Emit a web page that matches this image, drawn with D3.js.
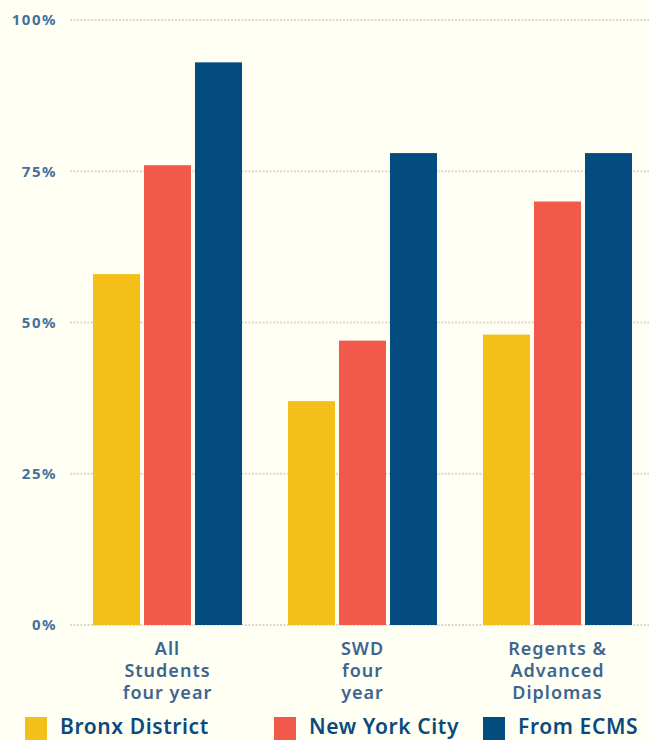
<!DOCTYPE html>
<html>
<head>
<meta charset="utf-8">
<script src="https://cdn.jsdelivr.net/npm/d3@7"></script>
<style>
  html, body { margin: 0; padding: 0; background: #fffff4; }
  svg { display: block; font-family: "Noto Sans", sans-serif; }
</style>
</head>
<body>
<div id="chart"></div>
<script>
const WIDTH = 649;
const HEIGHT = 740;

// data
const categories = ["All Students four year", "SWD four year", "Regents & Advanced Diplomas"];
const categoryLines = [["All", "Students", "four year"], ["SWD", "four", "year"], ["Regents &", "Advanced", "Diplomas"]];
const series = ["Bronx District", "New York City", "From ECMS"];
const bronx = [58, 37, 48];
const nyc = [76, 47, 70];
const ecms = [93, 78, 78];
const yTicks = [0, 25, 50, 75, 100];
const colors = ["#f5bf19", "#f15a4b", "#044b7f"];

const values = [bronx, nyc, ecms];

var svg = d3.select("#chart")
    .append("svg")
    .attr("width", WIDTH)
    .attr("height", HEIGHT);

const x0 = d3.scaleBand()
    .domain(categories)
    .range([93, 632])
    .paddingInner(0.236)
    .paddingOuter(0);

const x1 = d3.scaleBand()
    .domain(series)
    .range([0, x0.bandwidth()])
    .paddingInner(0.078);

const y = d3.scaleLinear()
    .domain([0, 100])
    .range([625, 20]);

const color = d3.scaleOrdinal().domain(series).range(colors);

// gridlines + tick labels
const grid = svg.append("g")
    .selectAll("g")
    .data(yTicks)
    .join("g")
    .attr("transform", d => `translate(0,${y(d)})`);

grid.append("line")
    .attr("x1", 70)
    .attr("x2", WIDTH)
    .style("stroke", "#d9d9cf")
    .style("stroke-width", 2)
    .style("stroke-dasharray", "2,1.5");

grid.append("text")
    .attr("x", 57)
    .attr("dy", "0.35em")
    .attr("text-anchor", "end")
    .attr("font-size", 15)
    .attr("font-weight", 700)
    .attr("letter-spacing", 1.5)
    .attr("fill", "#44709c")
    .text(d => d + "%");

// bars
const rows = [];
categories.forEach((c, i) => {
    series.forEach((s, j) => rows.push({cat: c, series: s, value: values[j][i]}));
});

svg.append("g")
    .selectAll("rect")
    .data(rows)
    .join("rect")
    .attr("x", d => x0(d.cat) + x1(d.series))
    .attr("y", d => y(d.value))
    .attr("width", x1.bandwidth())
    .attr("height", d => y(0) - y(d.value))
    .style("fill", d => color(d.series));

// category labels
const cat = svg.append("g")
    .selectAll("text")
    .data(categories)
    .join("text")
    .attr("x", d => x0(d) + x0.bandwidth() / 2)
    .attr("y", 655)
    .attr("text-anchor", "middle")
    .attr("font-size", 18)
    .attr("font-weight", 600)
    .attr("letter-spacing", 1)
    .attr("fill", "#3d6590");

cat.selectAll("tspan")
    .data((d, i) => categoryLines[i])
    .join("tspan")
    .attr("x", function() { return this.parentNode.getAttribute("x"); })
    .attr("dy", (d, i) => i === 0 ? 0 : 22)
    .text(d => d);

// legend
const legendX = [25, 274, 483];
const legend = svg.append("g")
    .selectAll("g")
    .data(series)
    .join("g")
    .attr("transform", (d, i) => `translate(${legendX[i]},717)`);

legend.append("rect")
    .attr("width", 22)
    .attr("height", 23)
    .style("fill", d => color(d));

legend.append("text")
    .attr("x", 35)
    .attr("y", 17)
    .attr("font-size", 21)
    .attr("font-weight", 600)
    .attr("letter-spacing", 0.6)
    .attr("fill", "#0b4a7c")
    .text(d => d);
</script>
</body>
</html>
